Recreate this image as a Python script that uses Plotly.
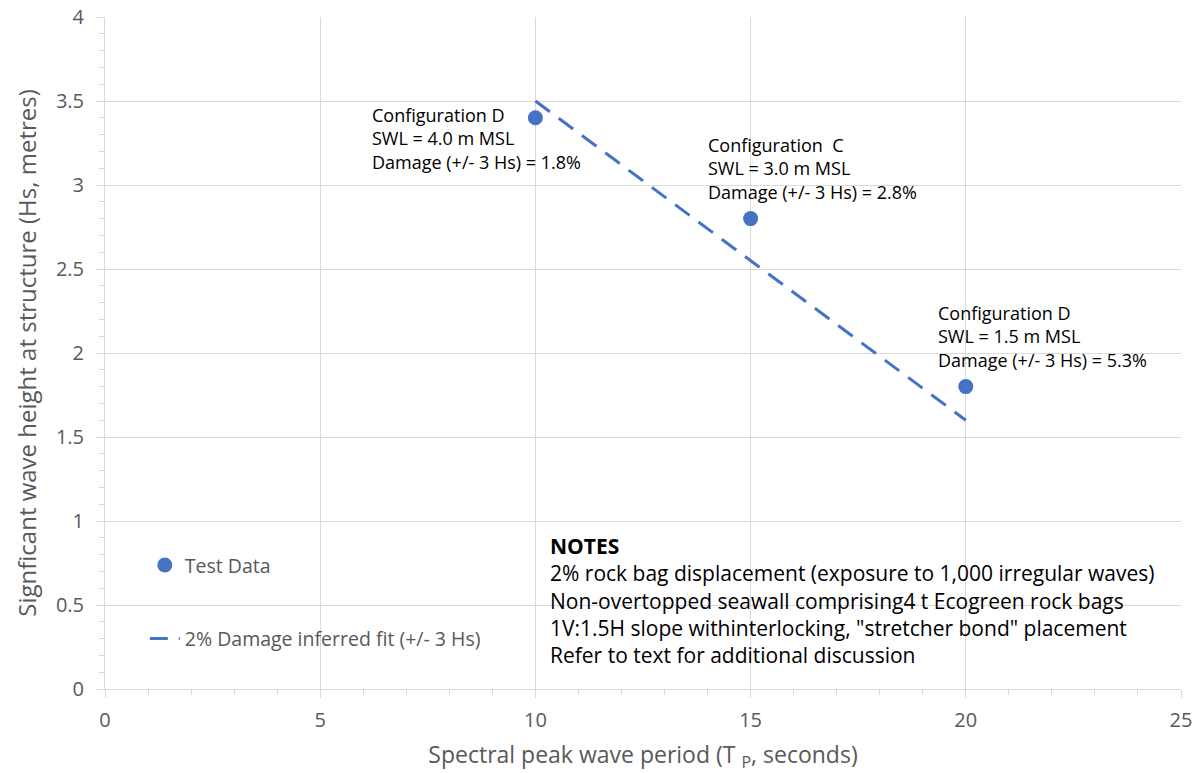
import plotly.graph_objects as go

# Data
test_period = [10, 15, 20]
test_height = [3.4, 2.8, 1.8]
fit_period = [10, 20]
fit_height = [3.5, 1.6]

labels = [
    "Configuration D<br>SWL = 4.0 m MSL<br>Damage (+/- 3 Hs) = 1.8%",
    "Configuration  C<br>SWL = 3.0 m MSL<br>Damage (+/- 3 Hs) = 2.8%",
    "Configuration D<br>SWL = 1.5 m MSL<br>Damage (+/- 3 Hs) = 5.3%",
]
label_x = [6.16, 13.96, 19.3]
label_y = [3.50, 3.32, 2.32]

notes = ("<b>NOTES</b><br>2% rock bag displacement (exposure to 1,000 irregular waves)<br>"
         "Non-overtopped seawall comprising4 t Ecogreen rock bags<br>"
         "1V:1.5H slope withinterlocking, \"stretcher bond\" placement<br>"
         "Refer to text for additional discussion")

BLUE = "#4472C4"
GRID = "#d9d9d9"
TXT = "#595959"
FONT = "Open Sans"

fig = go.Figure()
fig.add_trace(go.Scatter(x=test_period, y=test_height, mode="markers", name="Test Data",
                         marker=dict(color=BLUE, size=15), legendgroup="a"))
fig.add_trace(go.Scatter(x=fit_period, y=fit_height, mode="lines",
                         name="2% Damage inferred fit (+/- 3 Hs)",
                         line=dict(color=BLUE, width=3, dash="18px,11px"), legendgroup="b"))

for t, x, y in zip(labels, label_x, label_y):
    fig.add_annotation(x=x, y=y, xref="x", yref="y", text=t, showarrow=False,
                       xanchor="left", yanchor="top", align="left",
                       font=dict(family=FONT, size=18, color="black"))

fig.add_annotation(x=(548 - 105) / 1076, y=0.237, xref="paper", yref="paper",
                   text=notes, showarrow=False, xanchor="left", yanchor="top", align="left",
                   font=dict(family=FONT, size=21, color="black"))

fig.update_layout(
    width=1199, height=773,
    margin=dict(l=105, r=18, t=17, b=84),
    paper_bgcolor="white", plot_bgcolor="white",
    font=dict(family=FONT, color=TXT),
    legend=dict(x=0.037, y=0.213, xanchor="left", yanchor="top", bgcolor="rgba(0,0,0,0)",
                font=dict(family=FONT, size=19.5, color=TXT), tracegroupgap=45),
    xaxis=dict(range=[0, 25], dtick=5, showgrid=True, gridcolor=GRID, gridwidth=1,
               showline=True, linecolor=GRID, linewidth=1, zeroline=False, automargin=False,
               ticks="outside", ticklen=8, tickcolor=GRID, ticklabelstandoff=5,
               minor=dict(ticks="outside", dtick=1, ticklen=5, tickcolor=GRID, showgrid=False),
               tickfont=dict(family=FONT, size=20, color=TXT),
               title=dict(text="Spectral peak wave period (T <sub>P</sub>, seconds)",
                          font=dict(family=FONT, size=23, color=TXT), standoff=20)),
    yaxis=dict(range=[0, 4], dtick=0.5, showgrid=True, gridcolor=GRID, gridwidth=1,
               showline=True, linecolor=GRID, linewidth=1, zeroline=False, automargin=False,
               ticks="outside", ticklen=8, tickcolor=GRID, ticklabelstandoff=8,
               minor=dict(ticks="outside", dtick=0.1, ticklen=5, tickcolor=GRID, showgrid=False),
               tickfont=dict(family=FONT, size=20, color=TXT),
               title=dict(text="Signficant wave height at structure (Hs, metres)",
                          font=dict(family=FONT, size=24, color=TXT), standoff=12)),
)

fig.write_html("out.html")
